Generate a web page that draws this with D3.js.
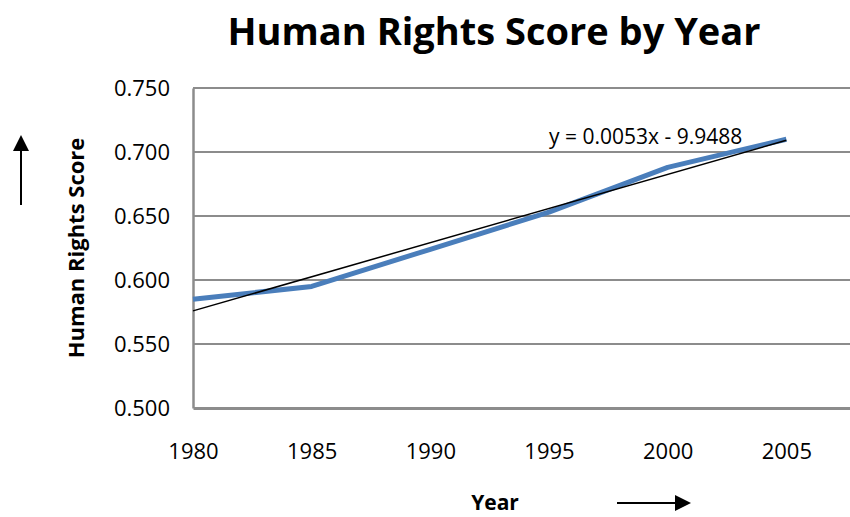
<!DOCTYPE html>
<html>
<head>
<meta charset="utf-8">
<script src="https://cdn.jsdelivr.net/npm/d3@7"></script>
<style>
	body { margin: 0; background: #fff; }
	text { font-family: "Open Sans", "Noto Sans", sans-serif; }
</style>
</head>
<body>
<div id="chart"></div>
<script>
//Data
var years = [1980, 1985, 1990, 1995, 2000, 2005];
var scores = [0.585, 0.595, 0.624, 0.653, 0.688, 0.710];
var yTicks = [0.500, 0.550, 0.600, 0.650, 0.700, 0.750];
var xTicks = [1980, 1985, 1990, 1995, 2000, 2005];
var trendLabel = "y = 0.0053x - 9.9488";

//SVG setup
var W = 850, H = 517;
var margin = { top: 88, left: 193 };
var width = 712;   // 1980..2010, the right part falls off the picture
var height = 320;

var svg = d3.select("#chart")
	.append("svg")
	.attr("width", W)
	.attr("height", H);

var g = svg.append("g")
	.attr("transform", "translate(" + margin.left + "," + margin.top + ")");

//Scales
var x = d3.scaleLinear().domain([1980, 2010]).range([0, width]);
var y = d3.scaleLinear().domain([0.5, 0.75]).range([height, 0]);

//Gridlines
g.append("g")
	.selectAll("line")
	.data(yTicks.slice(1))
	.enter()
	.append("line")
	.attr("x1", 0)
	.attr("x2", width)
	.attr("y1", function(d) { return y(d); })
	.attr("y2", function(d) { return y(d); })
	.attr("stroke", "#8c8c8c")
	.attr("stroke-width", 2);

//Y axis
var yAxis = g.append("g")
	.call(d3.axisLeft(y).tickValues(yTicks).tickFormat(d3.format(".3f")).tickSize(0).tickPadding(23));
yAxis.select(".domain").attr("stroke", "#8c8c8c").attr("stroke-width", 2.5);
yAxis.selectAll("text").attr("font-size", 22).attr("fill", "#000")
	.style("font-family", "'Open Sans', sans-serif");

//X axis
var xAxis = g.append("g")
	.attr("transform", "translate(0," + height + ")")
	.call(d3.axisBottom(x).tickValues(xTicks).tickFormat(d3.format("d")).tickSize(0).tickPadding(35));
xAxis.select(".domain").attr("stroke", "#8c8c8c").attr("stroke-width", 3);
xAxis.selectAll("text").attr("font-size", 22).attr("fill", "#000")
	.style("font-family", "'Open Sans', sans-serif");

//Data line
var line = d3.line()
	.x(function(d, i) { return x(years[i]); })
	.y(function(d) { return y(d); });

g.append("path")
	.datum(scores)
	.attr("fill", "none")
	.attr("stroke", "#4a7ebb")
	.attr("stroke-width", 5)
	.attr("stroke-linejoin", "round")
	.attr("d", line);

//Linear trend from the data
var mx = d3.mean(years), my = d3.mean(scores);
var sxy = d3.sum(years, function(v, i) { return (v - mx) * (scores[i] - my); });
var sxx = d3.sum(years, function(v) { return (v - mx) * (v - mx); });
var slope = sxy / sxx, icpt = my - slope * mx;

g.append("line")
	.attr("x1", x(1980))
	.attr("x2", x(2005))
	.attr("y1", y(slope * 1980 + icpt))
	.attr("y2", y(slope * 2005 + icpt))
	.attr("stroke", "#000")
	.attr("stroke-width", 1.5);

g.append("text")
	.attr("x", x(1995.0))
	.attr("y", y(0.706))
	.attr("font-size", 21)
	.attr("fill", "#000")
	.text(trendLabel);

//Title
svg.append("text")
	.attr("x", 494)
	.attr("y", 45)
	.attr("text-anchor", "middle")
	.attr("font-size", 38)
	.attr("font-weight", "bold")
	.text("Human Rights Score by Year");

//Axis titles
svg.append("text")
	.attr("transform", "translate(84,248) rotate(-90)")
	.attr("text-anchor", "middle")
	.attr("font-size", 22)
	.attr("font-weight", "bold")
	.text("Human Rights Score");

svg.append("text")
	.attr("x", 495)
	.attr("y", 510)
	.attr("text-anchor", "middle")
	.attr("font-size", 21)
	.attr("font-weight", "bold")
	.text("Year");

//Arrows
svg.append("defs").append("marker")
	.attr("id", "head")
	.attr("viewBox", "0 0 10 10")
	.attr("refX", 0)
	.attr("refY", 5)
	.attr("markerWidth", 16)
	.attr("markerHeight", 16)
	.attr("markerUnits", "userSpaceOnUse")
	.attr("orient", "auto")
	.append("path")
	.attr("d", "M0,0L10,5L0,10Z")
	.attr("fill", "#000");

svg.append("line")
	.attr("x1", 21).attr("y1", 205)
	.attr("x2", 21).attr("y2", 151)
	.attr("stroke", "#000").attr("stroke-width", 2)
	.attr("marker-end", "url(#head)");

svg.append("line")
	.attr("x1", 617).attr("y1", 503)
	.attr("x2", 675).attr("y2", 503)
	.attr("stroke", "#000").attr("stroke-width", 2)
	.attr("marker-end", "url(#head)");
</script>
</body>
</html>
